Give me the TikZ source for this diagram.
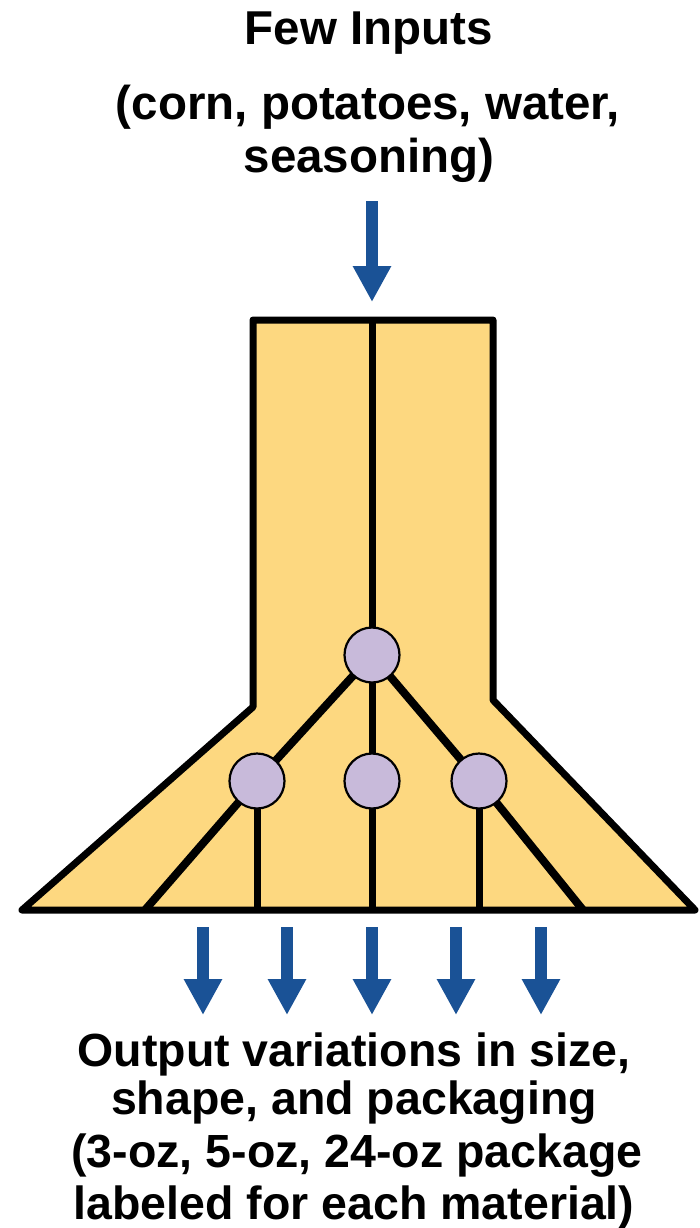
\documentclass[tikz,border=0pt]{standalone}
\usepackage{fontspec}
\setmainfont{Liberation Sans}
\usetikzlibrary{arrows.meta,backgrounds}

\definecolor{funnelfill}{HTML}{FDD880}
\definecolor{nodefill}{HTML}{C8BADA}
\definecolor{flowblue}{HTML}{1A5296}

\tikzset{
  funnel/.style={draw=black, fill=funnelfill, line width=7pt, line join=round},
  branch/.style={draw=black, line width=7pt},
  diagbranch/.style={draw=black, line width=8pt},
  hub/.style={circle, draw=black, fill=nodefill, line width=2.2pt,
              minimum size=55pt, inner sep=0pt},
  flow/.style={draw=flowblue, line width=11.5pt,
               -{Triangle[length=36pt,width=36pt]}},
  label/.style={font=\bfseries\fontsize{46.5}{50}\selectfont, anchor=base,
                inner sep=0pt},
  biglabel/.style={label, font=\bfseries\fontsize{47.5}{50}\selectfont}
}

\begin{document}
\begin{tikzpicture}[x=1pt,y=-1pt]
\useasboundingbox (0,0) rectangle (700,1228);

% headings
\node[biglabel] (in1) at (369,45)  {Few Inputs};
\node[biglabel] (in2) at (368,120) {(corn, potatoes, water,};
\node[biglabel] (in3) at (369,172) {seasoning)};

% branching hubs
\node[hub] (T) at (372,655) {};
\node[hub] (L) at (257,781) {};
\node[hub] (M) at (372,781) {};
\node[hub] (R) at (479,781) {};

% ends of the channels
\coordinate (topC) at (372,320);
\coordinate (bLL) at (145,910);
\coordinate (bL)  at (258,910);
\coordinate (bM)  at (372,910);
\coordinate (bR)  at (478,910);
\coordinate (bRR) at (583,910);

\begin{scope}[on background layer]
  % funnel body
  \path[funnel] (253,320) -- (493,320) -- (493,700) -- (695,910)
                -- (22,910) -- (253,707) -- cycle;
  % channels
  \path[branch] (topC) -- (T.center);
  \path[branch] (T.center) -- (M.center);
  \path[branch] (M.center) -- (bM);
  \path[diagbranch] (T.center) -- (L.center);
  \path[diagbranch] (T.center) -- (R.center);
  \path[diagbranch] (L.center) -- (bLL);
  \path[diagbranch] (R.center) -- (bRR);
  \path[branch] (L.center) -- (L.center |- bL);
  \path[branch] (R.center) -- (R.center |- bR);
\end{scope}

% input arrow
\coordinate (inS) at (372,201);
\coordinate (inE) at (372,302);
\draw[flow] (inS) -- (inE);

% output arrows
\foreach \x [count=\i] in {203,287,372,456,541} {
  \coordinate (oS\i) at (\x,927);
  \coordinate (oE\i) at (\x,1015);
  \draw[flow] (oS\i) -- (oE\i);
}

% outcome text
\node[label] (out1) at (354,1066) {Output variations in size,};
\node[label] (out2) at (354,1114) {shape, and packaging};
\node[label] (out3) at (357,1167) {(3-oz, 5-oz, 24-oz package};
\node[label] (out4) at (354,1219) {labeled for each material)};
\end{tikzpicture}
\end{document}
